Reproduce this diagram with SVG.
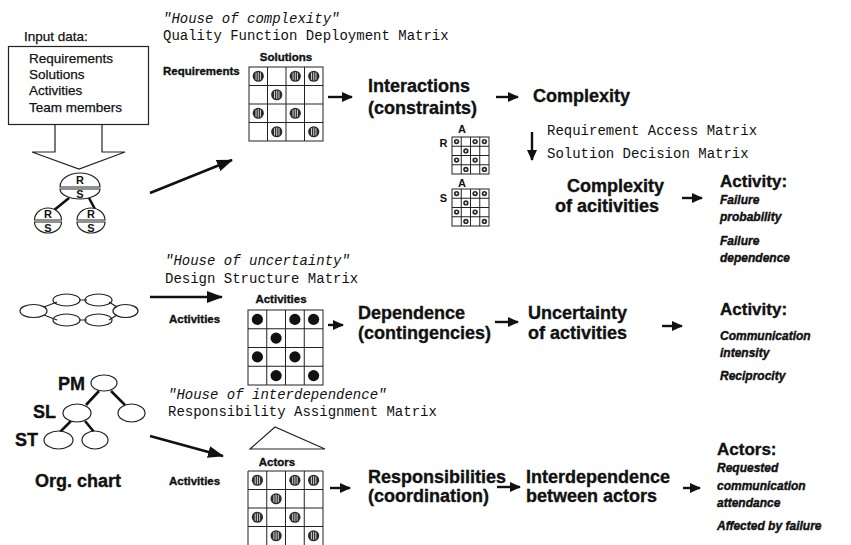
<svg xmlns="http://www.w3.org/2000/svg" xmlns:xlink="http://www.w3.org/1999/xlink" width="851" height="545" viewBox="0 0 851 545">
  <style>
    .mono { font-family: "Liberation Mono", "Courier New", monospace; font-size: 14px; fill: #111; }
    .it { font-style: italic; }
    .big { font-family: "Liberation Sans", Arial, sans-serif; font-size: 18px; font-weight: bold; fill: #111; stroke: #111; stroke-width: 0.35; }
    .head { font-family: "Liberation Sans", Arial, sans-serif; font-size: 17px; font-weight: bold; fill: #111; stroke: #111; stroke-width: 0.35; }
    .lab { font-family: "Liberation Sans", Arial, sans-serif; font-size: 11.5px; font-weight: bold; fill: #111; stroke: #111; stroke-width: 0.35; }
    .attr { font-family: "Liberation Sans", Arial, sans-serif; font-size: 12px; font-weight: bold; font-style: italic; fill: #111; stroke: #111; stroke-width: 0.4; }
    .inp { font-family: "Liberation Sans", Arial, sans-serif; font-size: 13.5px; fill: #111; stroke: #111; stroke-width: 0.25; }
    .node { font-family: "Liberation Sans", Arial, sans-serif; font-size: 11px; font-weight: bold; fill: #111; text-anchor: middle; }
    .grid { fill: none; stroke: #222; stroke-width: 1; }
    .thin { fill: none; stroke: #222; stroke-width: 1.2; }
    .bold { fill: none; stroke: #111; stroke-width: 2.6; }
    .arr { fill: none; stroke: #111; stroke-width: 2.4; marker-end: url(#ah); }
    .arrL { fill: none; stroke: #111; stroke-width: 2.6; marker-end: url(#ahL); }
    .dot { fill: #111; }
  </style>
  <defs>
    <marker id="ah" markerUnits="userSpaceOnUse" markerWidth="11" markerHeight="10" refX="10" refY="5" orient="auto">
      <path d="M0,0 L11,5 L0,10 z" fill="#111"/>
    </marker>
    <marker id="ahL" markerUnits="userSpaceOnUse" markerWidth="16" markerHeight="12" refX="15" refY="6" orient="auto">
      <path d="M0,0 L16,6 L0,12 z" fill="#111"/>
    </marker>
    <!-- striped marker used in the QFD and RAM cells -->
    <g id="hc">
      <circle r="5.6" fill="#2a2a2a"/>
      <path d="M-2.2,-3.6 V3.6 M0,-4.2 V4.2 M2.2,-3.6 V3.6" stroke="#fff" stroke-width="0.8"/>
    </g>
    <!-- tiny marker used in the access / decision matrices -->
    <g id="tc">
      <circle r="2.7" fill="#2a2a2a"/>
      <circle r="1" fill="#fff"/>
    </g>
  </defs>

  <!-- input data -->
  <g id="input">
    <text class="inp" x="24" y="41">Input data:</text>
    <rect x="8.5" y="46.5" width="140" height="78" class="thin"/>
    <text class="inp" x="29" y="63">Requirements</text>
    <text class="inp" x="29" y="79">Solutions</text>
    <text class="inp" x="29" y="95">Activities</text>
    <text class="inp" x="29" y="112">Team members</text>
    <path d="M55,124.5 V152 H32 L79,169 L125,152 H102 V124.5" class="thin"/>
  </g>

  <!-- requirement/solution tree: each node is a dome (R) over a bowl (S) -->
  <g id="rs-tree">
    <path d="M69,198 L53,211 M89,198 L96,211" class="bold"/>
    <path d="M60,187 A20,14 0 0 1 100,187 Z" fill="#fff" stroke="#222" stroke-width="1.2"/>
    <path d="M60,189 A20,10 0 0 0 100,189 Z" fill="#fff" stroke="#222" stroke-width="1.2"/>
    <text class="node" x="80" y="184">R</text>
    <text class="node" x="80" y="198">S</text>
    <path d="M34.5,220 A13.5,12 0 0 1 61.5,220 Z" fill="#fff" stroke="#222" stroke-width="1.2"/>
    <path d="M34.5,222 A13.5,11 0 0 0 61.5,222 Z" fill="#fff" stroke="#222" stroke-width="1.2"/>
    <text class="node" x="48" y="218">R</text>
    <text class="node" x="48" y="232">S</text>
    <path d="M77,220 A14,12 0 0 1 105,220 Z" fill="#fff" stroke="#222" stroke-width="1.2"/>
    <path d="M77,222 A14,11 0 0 0 105,222 Z" fill="#fff" stroke="#222" stroke-width="1.2"/>
    <text class="node" x="91" y="218">R</text>
    <text class="node" x="91" y="232">S</text>
  </g>

  <!-- activity network -->
  <g id="activity-network">
    <path d="M44,307 L57,302 M44,315 L57,320 M79,300 H87 M79,320 H87 M109,302 L117,307 M109,320 L117,315" class="thin"/>
    <ellipse cx="33.5" cy="311" rx="13.5" ry="6.5" class="thin"/>
    <ellipse cx="66.5" cy="300" rx="13.5" ry="6" class="thin"/>
    <ellipse cx="98.5" cy="300" rx="13.5" ry="6" class="thin"/>
    <ellipse cx="66.5" cy="320" rx="13.5" ry="6" class="thin"/>
    <ellipse cx="98.5" cy="320" rx="13.5" ry="6" class="thin"/>
    <ellipse cx="125.5" cy="311" rx="12.5" ry="6.5" class="thin"/>
  </g>

  <!-- organisation chart -->
  <g id="org-chart">
    <path d="M99,391 L86,405 M111,391 L125,405 M71,421 L60,432 M85,421 L94,432" class="bold"/>
    <ellipse cx="104" cy="383" rx="13" ry="8" fill="#fff" stroke="#222" stroke-width="1.2"/>
    <ellipse cx="77" cy="413" rx="14" ry="9" fill="#fff" stroke="#222" stroke-width="1.2"/>
    <ellipse cx="131.5" cy="413" rx="13.5" ry="9" fill="#fff" stroke="#222" stroke-width="1.2"/>
    <ellipse cx="58.5" cy="440" rx="14.5" ry="9" fill="#fff" stroke="#222" stroke-width="1.2"/>
    <ellipse cx="95" cy="440" rx="13" ry="9" fill="#fff" stroke="#222" stroke-width="1.2"/>
    <text class="big" x="58" y="390">PM</text>
    <text class="big" x="33" y="418">SL</text>
    <text class="big" x="15" y="446">ST</text>
    <text class="big" x="35" y="487">Org. chart</text>
  </g>

  <!-- house of complexity -->
  <g id="qfd">
    <text class="mono it" x="163" y="23">"House of complexity"</text>
    <text class="mono" x="163" y="40">Quality Function Deployment Matrix</text>
    <text class="lab" x="286" y="61" text-anchor="middle">Solutions</text>
    <text class="lab" x="163" y="75">Requirements</text>
    <rect x="249" y="67" width="74" height="74" class="grid"/>
    <path d="M267.5,67 V141 M286,67 V141 M304.5,67 V141 M249,85.5 H323 M249,104 H323 M249,122.5 H323" class="grid"/>
    <use xlink:href="#hc" x="258.25" y="76.25"/>
    <use xlink:href="#hc" x="295.25" y="76.25"/>
    <use xlink:href="#hc" x="313.75" y="76.25"/>
    <use xlink:href="#hc" x="276.75" y="94.75"/>
    <use xlink:href="#hc" x="258.25" y="113.25"/>
    <use xlink:href="#hc" x="295.25" y="113.25"/>
    <use xlink:href="#hc" x="276.75" y="131.75"/>
    <use xlink:href="#hc" x="313.75" y="131.75"/>
  </g>

  <g id="interactions">
    <text class="big" x="368" y="92">Interactions</text>
    <text class="big" x="368" y="114">(constraints)</text>
  </g>
  <g id="complexity">
    <text class="big" x="533" y="102">Complexity</text>
  </g>

  <!-- access and decision matrices -->
  <g id="access-matrices">
    <text class="mono" x="547" y="135">Requirement Access Matrix</text>
    <text class="mono" x="547" y="158">Solution Decision Matrix</text>
    <text class="node" x="462" y="133" font-size="13">A</text>
    <text class="node" x="443.5" y="147" font-size="13">R</text>
    <rect x="452" y="137" width="37" height="37" class="grid"/>
    <path d="M461.25,137 V174 M470.5,137 V174 M479.75,137 V174 M452,146.25 H489 M452,155.5 H489 M452,164.75 H489" class="grid"/>
    <use xlink:href="#tc" x="456.6" y="141.6"/>
    <use xlink:href="#tc" x="475.1" y="141.6"/>
    <use xlink:href="#tc" x="484.4" y="141.6"/>
    <use xlink:href="#tc" x="465.9" y="150.9"/>
    <use xlink:href="#tc" x="456.6" y="160.1"/>
    <use xlink:href="#tc" x="475.1" y="160.1"/>
    <use xlink:href="#tc" x="465.9" y="169.4"/>
    <use xlink:href="#tc" x="484.4" y="169.4"/>
    <text class="node" x="462" y="187" font-size="13">A</text>
    <text class="node" x="443.5" y="202" font-size="13">S</text>
    <rect x="452" y="189" width="37" height="37" class="grid"/>
    <path d="M461.25,189 V226 M470.5,189 V226 M479.75,189 V226 M452,198.25 H489 M452,207.5 H489 M452,216.75 H489" class="grid"/>
    <use xlink:href="#tc" x="456.6" y="193.6"/>
    <use xlink:href="#tc" x="475.1" y="193.6"/>
    <use xlink:href="#tc" x="484.4" y="193.6"/>
    <use xlink:href="#tc" x="465.9" y="202.9"/>
    <use xlink:href="#tc" x="456.6" y="212.1"/>
    <use xlink:href="#tc" x="475.1" y="212.1"/>
    <use xlink:href="#tc" x="465.9" y="221.4"/>
    <use xlink:href="#tc" x="484.4" y="221.4"/>
  </g>

  <g id="complexity-activities">
    <text class="big" x="567" y="192">Complexity</text>
    <text class="big" x="555" y="212">of acitivities</text>
  </g>
  <g id="activity-1">
    <text class="head" x="720" y="187">Activity:</text>
    <text class="attr" x="720" y="204">Failure</text>
    <text class="attr" x="720" y="221">probability</text>
    <text class="attr" x="720" y="245">Failure</text>
    <text class="attr" x="720" y="262">dependence</text>
  </g>

  <!-- house of uncertainty -->
  <g id="dsm">
    <text class="mono it" x="165" y="265">"House of uncertainty"</text>
    <text class="mono" x="165" y="283">Design Structure Matrix</text>
    <text class="lab" x="281" y="303" text-anchor="middle">Activities</text>
    <text class="lab" x="169" y="323">Activities</text>
    <rect x="248" y="310" width="75" height="75" class="grid"/>
    <path d="M266.75,310 V385 M285.5,310 V385 M304.25,310 V385 M248,328.75 H323 M248,347.5 H323 M248,366.25 H323" class="grid"/>
    <circle class="dot" cx="257.4" cy="319.4" r="5.6"/>
    <circle class="dot" cx="294.9" cy="319.4" r="5.6"/>
    <circle class="dot" cx="313.6" cy="319.4" r="5.6"/>
    <circle class="dot" cx="276.1" cy="338.1" r="5.6"/>
    <circle class="dot" cx="257.4" cy="356.9" r="5.6"/>
    <circle class="dot" cx="294.9" cy="356.9" r="5.6"/>
    <circle class="dot" cx="276.1" cy="375.6" r="5.6"/>
    <circle class="dot" cx="313.6" cy="375.6" r="5.6"/>
  </g>
  <g id="dependence">
    <text class="big" x="358" y="319">Dependence</text>
    <text class="big" x="358" y="339">(contingencies)</text>
  </g>
  <g id="uncertainty">
    <text class="big" x="528" y="319">Uncertainty</text>
    <text class="big" x="528" y="339">of activities</text>
  </g>
  <g id="activity-2">
    <text class="head" x="720" y="315">Activity:</text>
    <text class="attr" x="720" y="340">Communication</text>
    <text class="attr" x="720" y="357">intensity</text>
    <text class="attr" x="720" y="380">Reciprocity</text>
  </g>

  <!-- house of interdependence -->
  <g id="ram">
    <text class="mono it" x="168" y="399">"House of interdependence"</text>
    <text class="mono" x="168" y="416">Responsibility Assignment Matrix</text>
    <path d="M250,449 L275,427 L325,449 Z" class="thin"/>
    <text class="lab" x="277" y="466" text-anchor="middle">Actors</text>
    <text class="lab" x="169" y="485">Activities</text>
    <path d="M248,545 V471 H323 V545" class="grid"/>
    <path d="M266.75,471 V545 M285.5,471 V545 M304.25,471 V545 M248,489.5 H323 M248,508 H323 M248,526.5 H323" class="grid"/>
    <use xlink:href="#hc" x="257.4" y="480.25"/>
    <use xlink:href="#hc" x="294.9" y="480.25"/>
    <use xlink:href="#hc" x="313.6" y="480.25"/>
    <use xlink:href="#hc" x="276.1" y="498.75"/>
    <use xlink:href="#hc" x="257.4" y="517.25"/>
    <use xlink:href="#hc" x="294.9" y="517.25"/>
    <use xlink:href="#hc" x="276.1" y="535.75"/>
    <use xlink:href="#hc" x="313.6" y="535.75"/>
  </g>
  <g id="responsibilities">
    <text class="big" x="368" y="483">Responsibilities</text>
    <text class="big" x="368" y="502">(coordination)</text>
  </g>
  <g id="interdependence">
    <text class="big" x="526" y="483">Interdependence</text>
    <text class="big" x="526" y="502">between actors</text>
  </g>
  <g id="actors">
    <text class="head" x="717" y="455">Actors:</text>
    <text class="attr" x="717" y="472">Requested</text>
    <text class="attr" x="717" y="490">communication</text>
    <text class="attr" x="717" y="507">attendance</text>
    <text class="attr" x="717" y="530">Affected by failure</text>
  </g>

  <!-- connectors -->
  <g id="connectors">
    <path class="arrL" d="M150,193 L232,160"/>
    <path class="arr" d="M328,97 H352"/>
    <path class="arr" d="M496,97 H518"/>
    <path class="arr" d="M532,132 V160"/>
    <path class="arr" d="M682,198 H702"/>
    <path class="arrL" d="M150,297 H222"/>
    <path class="arr" d="M328,325 H343"/>
    <path class="arr" d="M495,322 H518"/>
    <path class="arr" d="M662,326 H682"/>
    <path class="arrL" d="M150,436 L223,456"/>
    <path class="arr" d="M330,488 H350"/>
    <path class="arr" d="M497,487 H520"/>
    <path class="arr" d="M683,488 H700"/>
  </g>
</svg>
